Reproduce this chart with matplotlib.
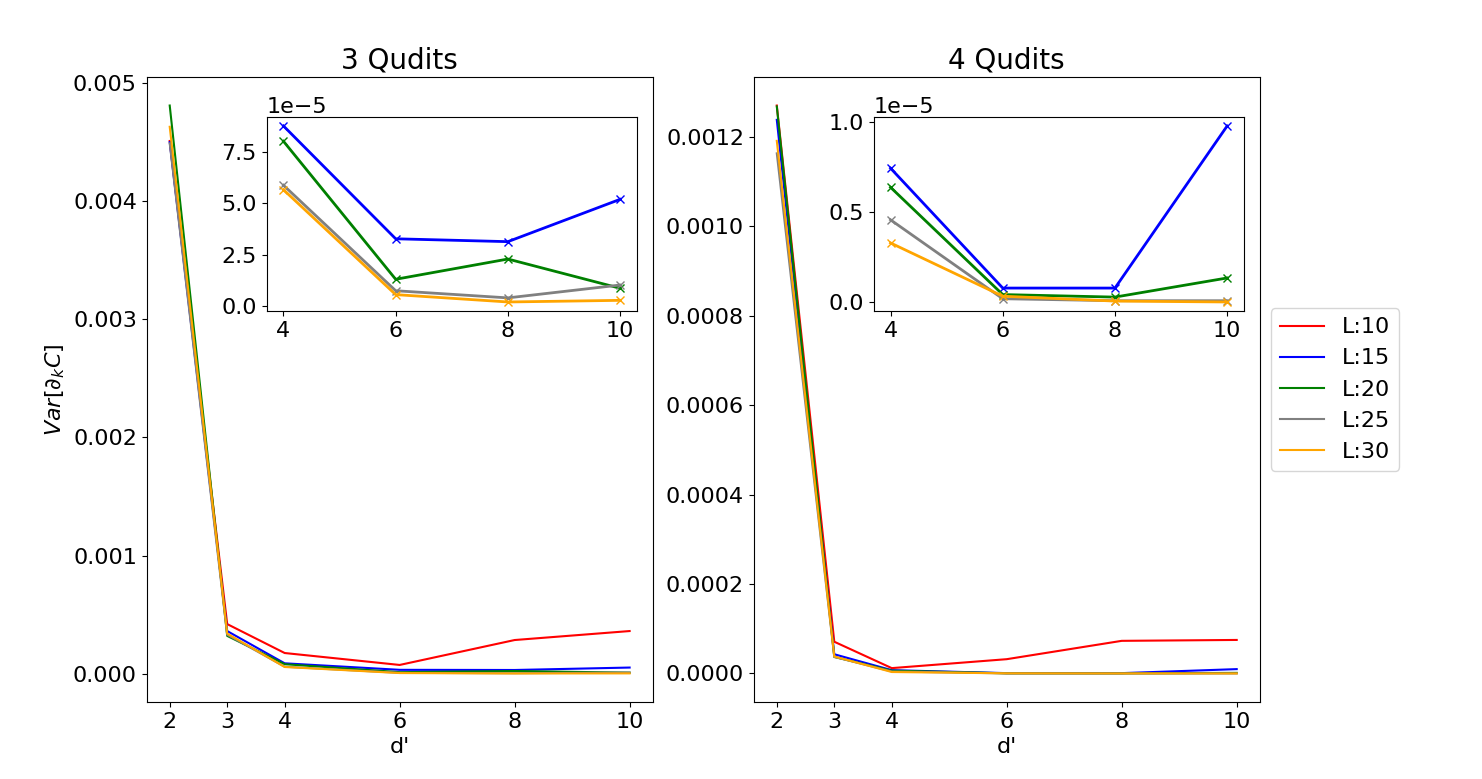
import numpy as np
import matplotlib
matplotlib.use("Agg")
import matplotlib.pyplot as plt

# d' values and layer counts
D_VALUES = [2, 3, 4, 6, 8, 10]
LAYERS = [10, 15, 20, 25, 30]
COLORS = ["red", "blue", "green", "gray", "orange"]

# Var[d_k C], 3 qudits, one list per L
VAR_3Q_L10 = [0.00451, 0.00042, 0.000175, 7.4e-5, 0.000285, 0.000361]
VAR_3Q_L15 = [0.00450, 0.000361, 8.79e-5, 3.27e-5, 3.13e-5, 5.2e-5]
VAR_3Q_L20 = [0.00481, 0.00032, 8.04e-5, 1.29e-5, 2.28e-5, 0.85e-5]
VAR_3Q_L25 = [0.00449, 0.00033, 5.89e-5, 0.73e-5, 0.38e-5, 1.01e-5]
VAR_3Q_L30 = [0.00463, 0.00034, 5.67e-5, 0.54e-5, 0.18e-5, 0.26e-5]

# Var[d_k C], 4 qudits
VAR_4Q_L10 = [0.00127, 7.1e-5, 1.2e-5, 3.2e-5, 7.3e-5, 7.5e-5]
VAR_4Q_L15 = [0.001238, 4.3e-5, 0.743e-5, 0.079e-5, 0.079e-5, 0.977e-5]
VAR_4Q_L20 = [0.001268, 3.7e-5, 0.637e-5, 0.043e-5, 0.029e-5, 0.135e-5]
VAR_4Q_L25 = [0.001163, 3.7e-5, 0.457e-5, 0.020e-5, 0.009e-5, 0.009e-5]
VAR_4Q_L30 = [0.001191, 3.8e-5, 0.329e-5, 0.034e-5, 0.007e-5, 0.002e-5]

DATA_3Q = [VAR_3Q_L10, VAR_3Q_L15, VAR_3Q_L20, VAR_3Q_L25, VAR_3Q_L30]
DATA_4Q = [VAR_4Q_L10, VAR_4Q_L15, VAR_4Q_L20, VAR_4Q_L25, VAR_4Q_L30]

plt.rcParams["font.size"] = 16

fig, axes = plt.subplots(1, 2, figsize=(14.82, 7.79), dpi=100)
fig.subplots_adjust(left=0.099, right=0.850, bottom=0.099, top=0.901, wspace=0.2)

d = np.array(D_VALUES)
for ax, data, title in zip(axes, [DATA_3Q, DATA_4Q], ["3 Qudits", "4 Qudits"]):
    for L, color, vals in zip(LAYERS, COLORS, data):
        ax.plot(d, vals, color=color, label=f"L:{L}")
    ax.set_xticks(D_VALUES)
    ax.set_xlabel("d'")
    ax.set_title(title, fontsize=20)

    # inset: d' >= 4, without L:10
    ins = ax.inset_axes([0.237, 0.626, 0.732, 0.31])
    for color, vals in zip(COLORS[1:], data[1:]):
        ins.plot(d[2:], vals[2:], color=color, marker="x", linewidth=2)

axes[0].set_ylabel(r"$Var[\partial_k C]$")
axes[1].legend(loc="center left", bbox_to_anchor=(1.0, 0.5))

fig.savefig("out.png", dpi=100)
